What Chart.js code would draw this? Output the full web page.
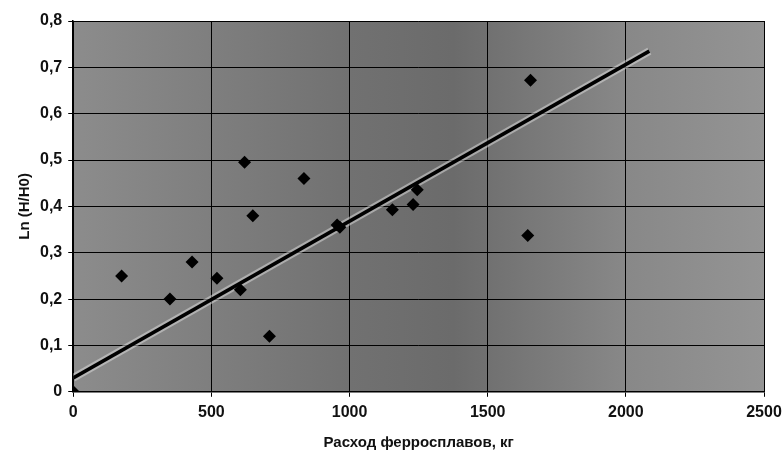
<!DOCTYPE html>
<html>
<head>
<meta charset="utf-8">
<script src="https://cdn.jsdelivr.net/npm/chart.js@4"></script>
<style>
  html, body { margin: 0; padding: 0; background: #fff; }
  #wrap { width: 783px; height: 452px; }
</style>
</head>
<body>
<div id="wrap"><canvas id="grafico"></canvas></div>
<script>
// точки: расход ферросплавов (кг) и Ln(H/H0)
const rashod = [0, 175, 350, 430, 520, 605, 620, 650, 710, 835, 955, 965, 1155, 1230, 1245, 1645, 1655];
const lnH = [0, 0.25, 0.2, 0.28, 0.245, 0.22, 0.495, 0.38, 0.12, 0.46, 0.36, 0.355, 0.393, 0.404, 0.436, 0.337, 0.672];

// линия тренда (концы)
const trendX = [0, 2085];
const trendY = [0.03, 0.735];

const xTicks = [0, 500, 1000, 1500, 2000, 2500];
const yTicks = [0, 0.1, 0.2, 0.3, 0.4, 0.5, 0.6, 0.7, 0.8];

// серый фон области построения (как на скане)
const fonPlugin = {
  id: 'fon',
  beforeDraw(chart) {
    const { ctx, chartArea: a } = chart;
    const g = ctx.createLinearGradient(a.left, 0, a.right, 0);
    g.addColorStop(0, '#8c8c8c');
    g.addColorStop(0.4, '#717171');
    g.addColorStop(0.55, '#6b6b6b');
    g.addColorStop(0.8, '#888888');
    g.addColorStop(1, '#949494');
    ctx.save();
    ctx.fillStyle = g;
    ctx.fillRect(a.left, a.top, a.right - a.left, a.bottom - a.top);
    ctx.restore();
  }
};

const tickFont = { family: 'Liberation Sans', size: 16, weight: 'bold' };
const titleFont = { family: 'Liberation Sans', size: 15, weight: 'bold' };

const ctx = document.getElementById('grafico');
new Chart(ctx, {
  type: 'scatter',
  data: {
    datasets: [
      {
        label: 'Ln (H/H0)',
        data: rashod.map((x, i) => ({ x: x, y: lnH[i] })),
        pointStyle: 'rectRot',
        pointRadius: 6.5,
        backgroundColor: '#000',
        borderColor: '#000',
        borderWidth: 0,
        order: 1
      },
      {
        label: 'тренд halo',
        data: trendX.map((x, i) => ({ x: x, y: trendY[i] })),
        showLine: true,
        pointRadius: 0,
        borderColor: 'rgba(225,225,225,0.5)',
        borderWidth: 8,
        order: 3
      },
      {
        label: 'тренд',
        data: trendX.map((x, i) => ({ x: x, y: trendY[i] })),
        showLine: true,
        pointRadius: 0,
        borderColor: '#000',
        borderWidth: 3.5,
        order: 2
      }
    ]
  },
  options: {
    responsive: true,
    maintainAspectRatio: false,
    animation: false,
    layout: { padding: { top: 21, right: 10, left: 16, bottom: 0 } },
    plugins: {
      legend: { display: false },
      tooltip: { enabled: false }
    },
    scales: {
      x: {
        type: 'linear',
        min: 0,
        max: 2500,
        afterBuildTicks: axis => { axis.ticks = xTicks.map(v => ({ value: v })); },
        // подпись 2500 на скане упирается в край
        afterFit: axis => { axis.paddingRight = 19; },
        ticks: {
          color: '#111',
          font: tickFont,
          padding: 6,
          maxRotation: 0,
          callback: v => String(v)
        },
        grid: { color: '#000', lineWidth: 1, tickLength: 5 },
        border: { color: '#000', width: 1.5 },
        title: {
          display: true,
          text: 'Расход ферросплавов, кг',
          color: '#111',
          font: titleFont,
          padding: { top: 6, bottom: 0 }
        }
      },
      y: {
        min: 0,
        max: 0.8,
        afterBuildTicks: axis => { axis.ticks = yTicks.map(v => ({ value: v })); },
        ticks: {
          color: '#111',
          font: tickFont,
          padding: 6,
          callback: v => (v === 0 ? '0' : v.toFixed(1).replace('.', ','))
        },
        grid: { color: '#000', lineWidth: 1, tickLength: 5 },
        border: { color: '#000', width: 1.5 },
        title: {
          display: true,
          text: 'Ln (H/H0)',
          color: '#111',
          font: titleFont,
          padding: { top: 0, bottom: 0 }
        }
      }
    }
  },
  plugins: [fonPlugin]
});
</script>
</body>
</html>
